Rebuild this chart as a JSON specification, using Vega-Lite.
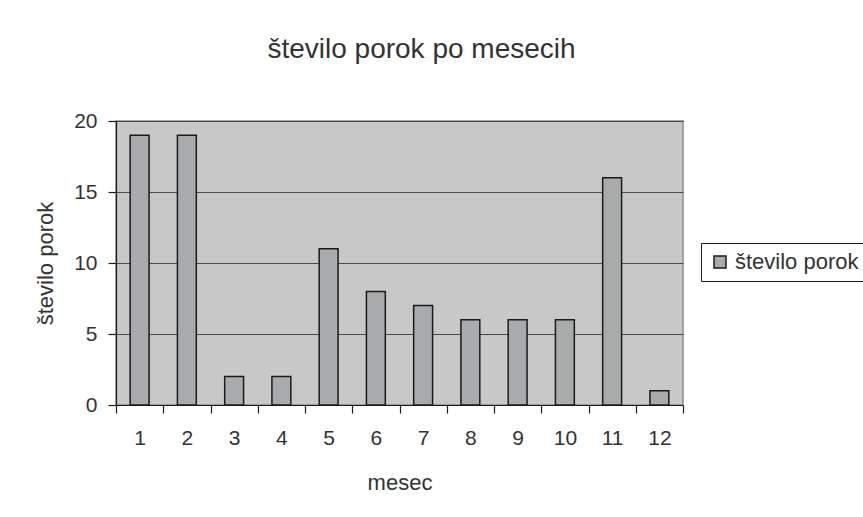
{
  "$schema": "https://vega.github.io/schema/vega-lite/v6.json",
  "width": 567,
  "height": 284,
  "autosize": {"type": "none"},
  "padding": {"left": 116, "top": 121, "right": 180, "bottom": 112},
  "background": "white",
  "title": {
    "text": "število porok po mesecih",
    "font": "Liberation Sans",
    "fontWeight": "normal",
    "fontSize": 28,
    "color": "#333333",
    "anchor": "middle",
    "frame": "group",
    "dx": 22,
    "offset": 46
  },
  "data": {
    "values": [
      {"mesec": "1", "stevilo": 19, "serija": "število porok"},
      {"mesec": "2", "stevilo": 19, "serija": "število porok"},
      {"mesec": "3", "stevilo": 2, "serija": "število porok"},
      {"mesec": "4", "stevilo": 2, "serija": "število porok"},
      {"mesec": "5", "stevilo": 11, "serija": "število porok"},
      {"mesec": "6", "stevilo": 8, "serija": "število porok"},
      {"mesec": "7", "stevilo": 7, "serija": "število porok"},
      {"mesec": "8", "stevilo": 6, "serija": "število porok"},
      {"mesec": "9", "stevilo": 6, "serija": "število porok"},
      {"mesec": "10", "stevilo": 6, "serija": "število porok"},
      {"mesec": "11", "stevilo": 16, "serija": "število porok"},
      {"mesec": "12", "stevilo": 1, "serija": "število porok"}
    ]
  },
  "mark": {"type": "bar", "stroke": "#1a1a1a", "strokeWidth": 1.5, "width": {"band": 0.4}},
  "encoding": {
    "x": {
      "field": "mesec",
      "type": "ordinal",
      "sort": null,
      "scale": {"paddingInner": 0, "paddingOuter": 0},
      "axis": {
        "title": "mesec",
        "labelAngle": 0,
        "tickBand": "extent",
        "tickSize": 8,
        "labelPadding": 14,
        "titlePadding": 24,
        "grid": false
      }
    },
    "y": {
      "field": "stevilo",
      "type": "quantitative",
      "scale": {"domain": [0, 20], "nice": false},
      "axis": {
        "title": "število porok",
        "values": [0, 5, 10, 15, 20],
        "tickSize": 8,
        "labelPadding": 11,
        "titlePadding": 16,
        "grid": true,
        "gridColor": "#4a4a4a",
        "gridOpacity": 1,
        "gridWidth": 1
      }
    },
    "color": {
      "field": "serija",
      "type": "nominal",
      "scale": {"range": ["#a9aaac"]},
      "legend": {
        "title": null,
        "orient": "none",
        "legendX": 585,
        "legendY": 122,
        "symbolType": "square",
        "symbolSize": 144,
        "symbolStrokeColor": "#1a1a1a",
        "symbolStrokeWidth": 1.5,
        "strokeColor": "#1a1a1a",
        "padding": 8,
        "labelOffset": 4,
        "labelFont": "Liberation Sans",
        "labelFontSize": 22,
        "labelColor": "#333333",
        "labelLimit": 300
      }
    }
  },
  "config": {
    "view": {"fill": "#c8c8c8", "stroke": "#8c8c8c", "strokeWidth": 1.5},
    "axis": {
      "labelFont": "Liberation Sans",
      "labelFontSize": 21,
      "labelColor": "#333333",
      "titleFont": "Liberation Sans",
      "titleFontWeight": "normal",
      "titleFontSize": 22,
      "titleColor": "#333333",
      "domainColor": "#1a1a1a",
      "domainWidth": 1.2,
      "tickColor": "#1a1a1a",
      "tickWidth": 1.2
    }
  }
}
